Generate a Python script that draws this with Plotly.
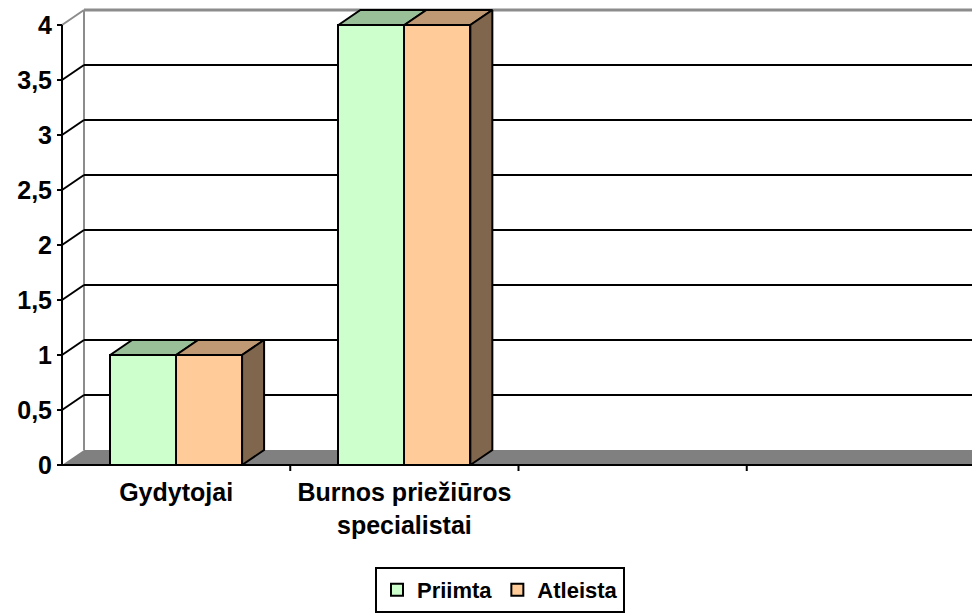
import plotly.graph_objects as go

# ---- data ----
categories = ["Gydytojai", "Burnos priežiūros<br>specialistai", "", ""]
series_names = ["Priimta", "Atleista"]
priimta = [1, 4]
atleista = [1, 4]
y_ticks = [0, 0.5, 1, 1.5, 2, 2.5, 3, 3.5, 4]
y_tick_text = ["0", "0,5", "1", "1,5", "2", "2,5", "3", "3,5", "4"]

# ---- style ----
front_colors = ["#CCFFCC", "#FFCC99"]
top_colors = ["#99BF99", "#BF9973"]
side_color = "#80664D"
FONT = "Arial, Liberation Sans, sans-serif"

# the page body adds an 8px offset; build the figure 8px smaller and shifted
OFF = 8
W, H = 980 - OFF, 616 - OFF

# pixel geometry -> data units
PX_X = 228.25   # px per category
PX_Y = 110.0    # px per unit value
dx = 22 / PX_X  # depth offset
dy = 15 / PX_Y
bw = 0.289      # bar width (in category units)
n_slots = len(categories)
ymax = 4

fig = go.Figure()

values = [priimta, atleista]
centers = [i + 0.5 for i in range(len(priimta))]

# front faces as bars
for s, (name, vals) in enumerate(zip(series_names, values)):
    fig.add_trace(go.Bar(
        x=centers, y=vals, name=name,
        width=bw, offset=-bw if s == 0 else 0,
        marker=dict(color=front_colors[s], line=dict(color="black", width=2)),
        showlegend=True,
    ))

# tops and sides
for s, vals in enumerate(values):
    for c, v in zip(centers, vals):
        x0 = c - bw if s == 0 else c
        x1 = x0 + bw
        fig.add_trace(go.Scatter(
            x=[x0, x1, x1 + dx, x0 + dx, x0],
            y=[v, v, v + dy, v + dy, v],
            fill="toself", fillcolor=top_colors[s], mode="lines",
            line=dict(color="black", width=2), showlegend=False, hoverinfo="skip"))
        if s == len(values) - 1:
            fig.add_trace(go.Scatter(
                x=[x1, x1, x1 + dx, x1 + dx, x1],
                y=[0, v, v + dy, dy, 0],
                fill="toself", fillcolor=side_color, mode="lines",
                line=dict(color="black", width=2), showlegend=False, hoverinfo="skip"))

shapes = []
# floor
shapes.append(dict(type="path", xref="x", yref="y", layer="below",
                   path=f"M0,0 L{n_slots},0 L{n_slots+dx},{dy} L{dx},{dy} Z",
                   fillcolor="#808080", line=dict(width=0)))
# wall borders (gray)
shapes.append(dict(type="line", xref="x", yref="y", layer="below",
                   x0=dx, y0=dy, x1=dx, y1=ymax + dy, line=dict(color="#8C8C8C", width=2)))
shapes.append(dict(type="line", xref="x", yref="y", layer="below",
                   x0=0, y0=ymax, x1=dx, y1=ymax + dy, line=dict(color="#8C8C8C", width=2)))
shapes.append(dict(type="line", xref="x", yref="y", layer="below",
                   x0=dx, y0=ymax + dy, x1=n_slots + dx, y1=ymax + dy, line=dict(color="#8C8C8C", width=3)))
# gridlines
for v in y_ticks:
    if v == 0 or v == ymax:
        continue
    shapes.append(dict(type="line", xref="x", yref="y", layer="below",
                       x0=0, y0=v, x1=dx, y1=v + dy, line=dict(color="black", width=2)))
    shapes.append(dict(type="line", xref="x", yref="y", layer="below",
                       x0=dx, y0=v + dy, x1=n_slots + dx, y1=v + dy, line=dict(color="black", width=2)))
# axes lines
shapes.append(dict(type="line", xref="x", yref="y", layer="above",
                   x0=0, y0=0, x1=0, y1=ymax, line=dict(color="black", width=2)))
shapes.append(dict(type="line", xref="x", yref="y", layer="above",
                   x0=0, y0=0, x1=n_slots, y1=0, line=dict(color="black", width=2)))
shapes.append(dict(type="line", xref="x", yref="y", layer="above",
                   x0=n_slots, y0=0, x1=n_slots + dx, y1=dy, line=dict(color="#333333", width=2)))
for k in range(1, n_slots):
    shapes.append(dict(type="line", xref="x", yref="y", layer="above",
                       x0=k, y0=0, x1=k, y1=-6 / PX_Y, line=dict(color="black", width=2)))

# plot area (window px): x 55..980, y 8..475  -> figure px minus OFF
ML = 55 - OFF
plot_w = W - ML
axis_x = 62 - OFF                # front y-axis position in figure px
x_min = -(axis_x - ML) / PX_X
x_max = x_min + plot_w / PX_X
bottom = 475 - OFF               # plot bottom in figure px
plot_h = bottom
zero_y = 465 - OFF
y_min = -(bottom - zero_y) / PX_Y
y_max = y_min + plot_h / PX_Y

fig.update_layout(
    width=W, height=H, autosize=False,
    margin=dict(l=ML, r=0, t=0, b=H - bottom, pad=0),
    paper_bgcolor="white", plot_bgcolor="white",
    barmode="overlay", bargap=0,
    shapes=shapes,
    hovermode=False,
    font=dict(family=FONT, color="black"),
    xaxis=dict(range=[x_min, x_max], showgrid=False, zeroline=False, showline=False,
               tickvals=[i + 0.5 for i in range(n_slots)], ticktext=categories,
               ticks="", tickfont=dict(size=25, family=FONT, weight="bold", color="black"),
               fixedrange=True, automargin=False),
    yaxis=dict(range=[y_min, y_max], showgrid=False, zeroline=False, showline=False,
               anchor="free", position=(axis_x - ML) / plot_w,
               tickvals=y_ticks, ticktext=y_tick_text,
               ticks="outside", ticklen=5, tickwidth=2, tickcolor="black",
               tickfont=dict(size=25, family=FONT, weight="bold", color="black"),
               fixedrange=True, automargin=False),
    legend=dict(orientation="h", xref="container", yref="container",
                x=(500 - OFF) / W, xanchor="center", y=(616 - 613) / H, yanchor="bottom",
                bordercolor="black", borderwidth=2, bgcolor="white",
                font=dict(size=22, family=FONT, weight="bold", color="black"),
                itemwidth=30, tracegroupgap=0),
)

fig.write_html("out.html")
